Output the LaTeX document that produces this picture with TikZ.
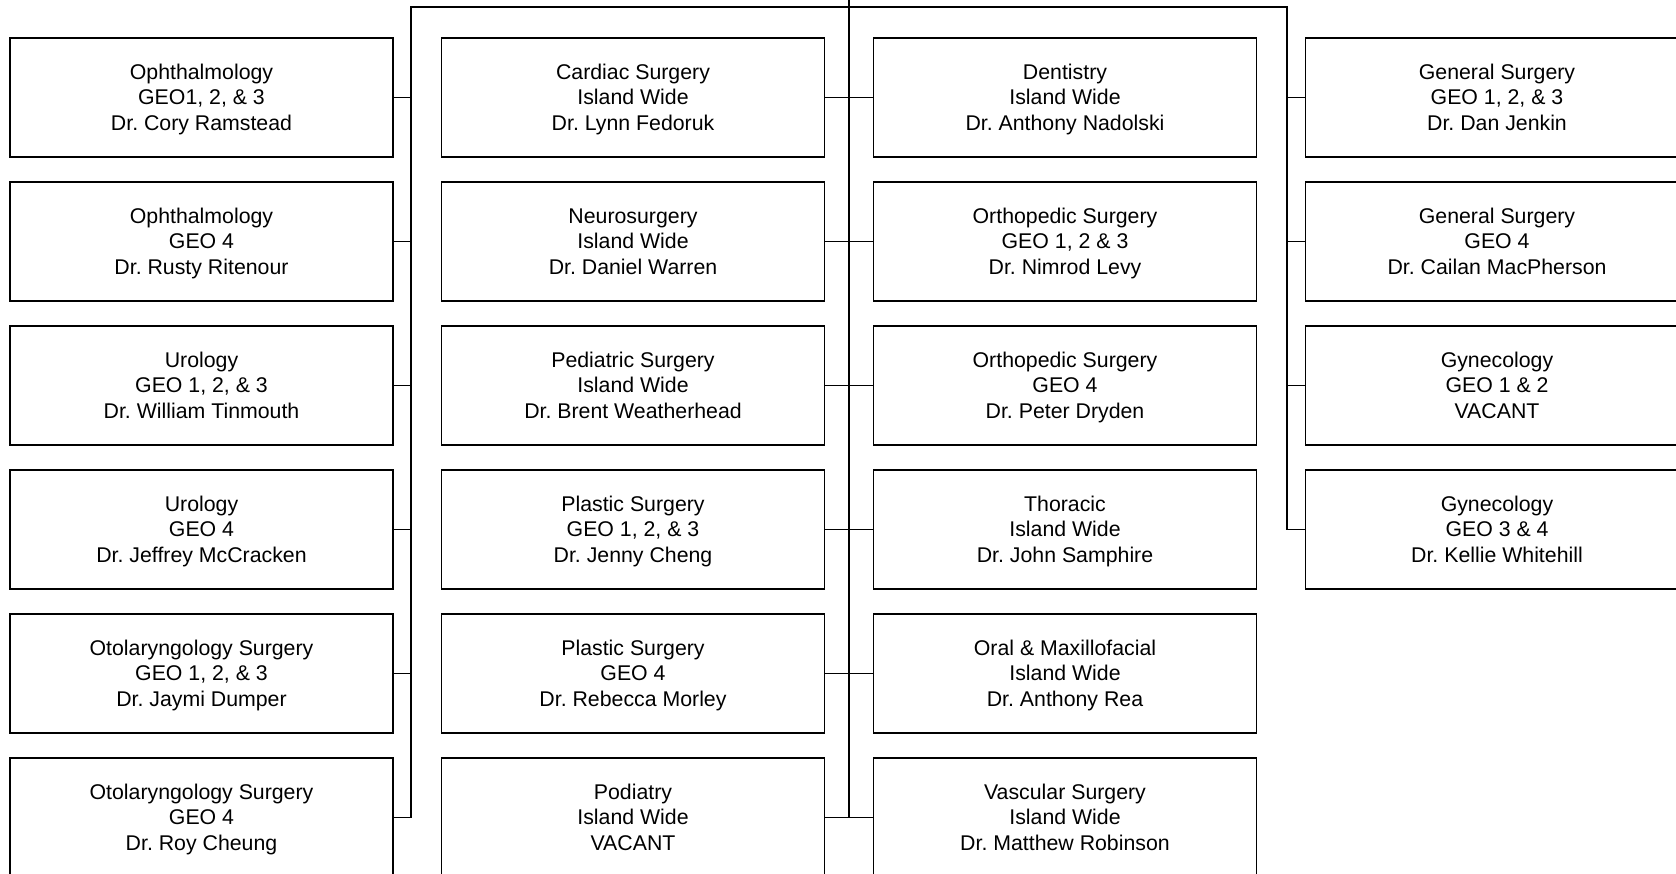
\documentclass[tikz,border=0pt]{standalone}
\usepackage{fontspec}
\setmainfont{Liberation Sans}
\frenchspacing
\newcommand{\threelines}[3]{\rule{0pt}{22pt}#1\\\strut #2\\\strut #3}
\begin{document}
\begin{tikzpicture}[x=1pt,y=-1pt,
  unit/.style={draw=black,line width=1.4pt,minimum width=383pt,minimum height=119pt,
    inner sep=0pt,align=center,font=\fontsize{21.3}{25.6}\selectfont},
  trunk/.style={line width=2pt,draw=black},
  link/.style={line width=1.2pt,draw=black}]
\useasboundingbox (0,0) rectangle (1676,874);
\clip (0,0) rectangle (1676,874);
% column 1
\node[unit] (a1) at (201.5,97.5)  {\threelines{Ophthalmology}{GEO1, 2, \& 3}{Dr. Cory Ramstead}};
\node[unit] (a2) at (201.5,241.5) {\threelines{Ophthalmology}{GEO 4}{Dr. Rusty Ritenour}};
\node[unit] (a3) at (201.5,385.5) {\threelines{Urology}{GEO 1, 2, \& 3}{Dr. William Tinmouth}};
\node[unit] (a4) at (201.5,529.5) {\threelines{Urology}{GEO 4}{Dr. Jeffrey McCracken}};
\node[unit] (a5) at (201.5,673.5) {\threelines{Otolaryngology Surgery}{GEO 1, 2, \& 3}{Dr. Jaymi Dumper}};
\node[unit] (a6) at (201.5,817.5) {\threelines{Otolaryngology Surgery}{GEO 4}{Dr. Roy Cheung}};
% column 2
\node[unit] (b1) at (633,97.5)  {\threelines{Cardiac Surgery}{Island Wide}{Dr. Lynn Fedoruk}};
\node[unit] (b2) at (633,241.5) {\threelines{Neurosurgery}{Island Wide}{Dr. Daniel Warren}};
\node[unit] (b3) at (633,385.5) {\threelines{Pediatric Surgery}{Island Wide}{Dr. Brent Weatherhead}};
\node[unit] (b4) at (633,529.5) {\threelines{Plastic Surgery}{GEO 1, 2, \& 3}{Dr. Jenny Cheng}};
\node[unit] (b5) at (633,673.5) {\threelines{Plastic Surgery}{GEO 4}{Dr. Rebecca Morley}};
\node[unit] (b6) at (633,817.5) {\threelines{Podiatry}{Island Wide}{VACANT}};
% column 3
\node[unit] (c1) at (1065,97.5)  {\threelines{Dentistry}{Island Wide}{Dr. Anthony Nadolski}};
\node[unit] (c2) at (1065,241.5) {\threelines{Orthopedic Surgery}{GEO 1, 2 \& 3}{Dr. Nimrod Levy}};
\node[unit] (c3) at (1065,385.5) {\threelines{Orthopedic Surgery}{GEO 4}{Dr. Peter Dryden}};
\node[unit] (c4) at (1065,529.5) {\threelines{Thoracic}{Island Wide}{Dr. John Samphire}};
\node[unit] (c5) at (1065,673.5) {\threelines{Oral \& Maxillofacial}{Island Wide}{Dr. Anthony Rea}};
\node[unit] (c6) at (1065,817.5) {\threelines{Vascular Surgery}{Island Wide}{Dr. Matthew Robinson}};
% column 4
\node[unit] (d1) at (1497,97.5)  {\threelines{General Surgery}{GEO 1, 2, \& 3}{Dr. Dan Jenkin}};
\node[unit] (d2) at (1497,241.5) {\threelines{General Surgery}{GEO 4}{Dr. Cailan MacPherson}};
\node[unit] (d3) at (1497,385.5) {\threelines{Gynecology}{GEO 1 \& 2}{VACANT}};
\node[unit] (d4) at (1497,529.5) {\threelines{Gynecology}{GEO 3 \& 4}{Dr. Kellie Whitehill}};
% trunk lines
\coordinate (top) at (849,-2);
\coordinate (L) at (411,7);
\coordinate (C) at (849,7);
\coordinate (R) at (1287,7);
\draw[trunk] (top) -- (C |- b6.east);
\draw[trunk] (L |- a6.east) -- (L) -- (R) -- (R |- d4.west);
% links
\foreach \n in {a1,a2,a3,a4,a5,a6} {\draw[link] (\n.east) -- (\n.east -| L);}
\foreach \n in {b1,b2,b3,b4,b5,b6} {\draw[link] (\n.east) -- (\n.east -| C);}
\foreach \n in {c1,c2,c3,c4,c5,c6} {\draw[link] (\n.west) -- (\n.west -| C);}
\foreach \n in {d1,d2,d3,d4} {\draw[link] (\n.west) -- (\n.west -| R);}
\end{tikzpicture}
\end{document}
